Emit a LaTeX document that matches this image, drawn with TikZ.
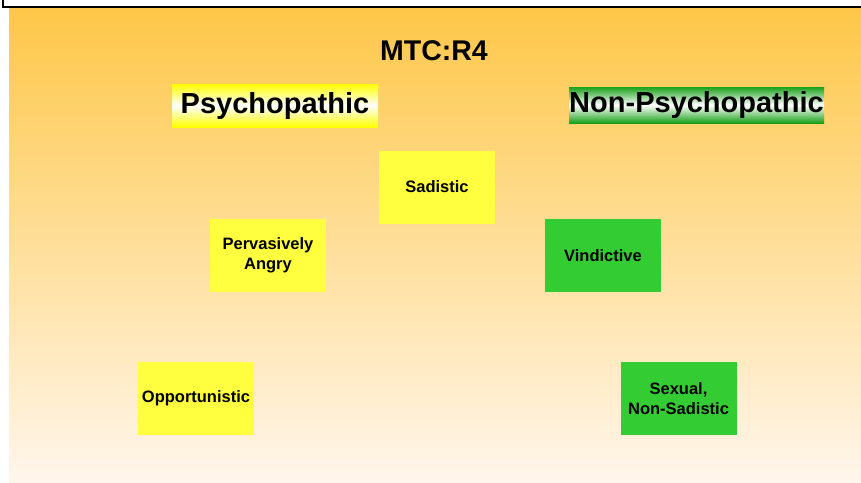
\documentclass[tikz,border=0pt]{standalone}
\usepackage{fontspec}
\setmainfont{Liberation Sans}
\definecolor{BgTop}{RGB}{254,199,72}
\definecolor{BgBottom}{RGB}{255,246,236}
\definecolor{TypeYellow}{RGB}{255,255,64}
\definecolor{TypeGreen}{RGB}{51,204,51}
\definecolor{HeadGreen}{RGB}{25,160,25}
\tikzset{
  TitleStyle/.style = { font = \fontsize{28.5}{32}\selectfont\bfseries },
  HeadStyle/.style  = { inner sep=0pt, font = \fontsize{29}{34}\selectfont\bfseries },
  TypeStyle/.style  = { rectangle, inner sep=0pt, align=center,
                        minimum width=116pt, minimum height=73pt,
                        font = \fontsize{16.5}{19.5}\selectfont\bfseries },
  Psy/.style        = { TypeStyle, fill=TypeYellow },
  NonPsy/.style     = { TypeStyle, fill=TypeGreen } }

\begin{document}
\begin{tikzpicture}[x=1pt,y=-1pt]
  \clip (0,0) rectangle (861,482);
  \useasboundingbox (0,0) rectangle (861,482);
  % slide frame and background
  \draw[line width=1.2pt, fill=white] (3,-20) rectangle (880,7);
  \fill[top color=BgTop, bottom color=BgBottom] (9,8.5) rectangle (861,482);

  \node[TitleStyle](TITLE) at (434,51) {MTC:R4};

  \node[HeadStyle, minimum width=206pt, minimum height=43pt,
        top color=yellow, bottom color=yellow, middle color=white](PSY) at (275,105.5) {Psychopathic};
  \node[HeadStyle, minimum width=255pt, minimum height=36pt,
        top color=HeadGreen, bottom color=HeadGreen, middle color=white](NONPSY) at (696.5,105) {Non-Psychopathic};

  \node[Psy](SAD) at (437,187) {Sadistic};
  \node[Psy](ANGRY) at (268,255.5) {Pervasively\\Angry};
  \node[Psy](OPP) at (196,398.5) {Opportunistic};
  \node[NonPsy](VIND) at (603,255.5) {Vindictive};
  \node[NonPsy](SEX) at (678.5,398.5) {Sexual,\\Non-Sadistic};
\end{tikzpicture}
\end{document}
